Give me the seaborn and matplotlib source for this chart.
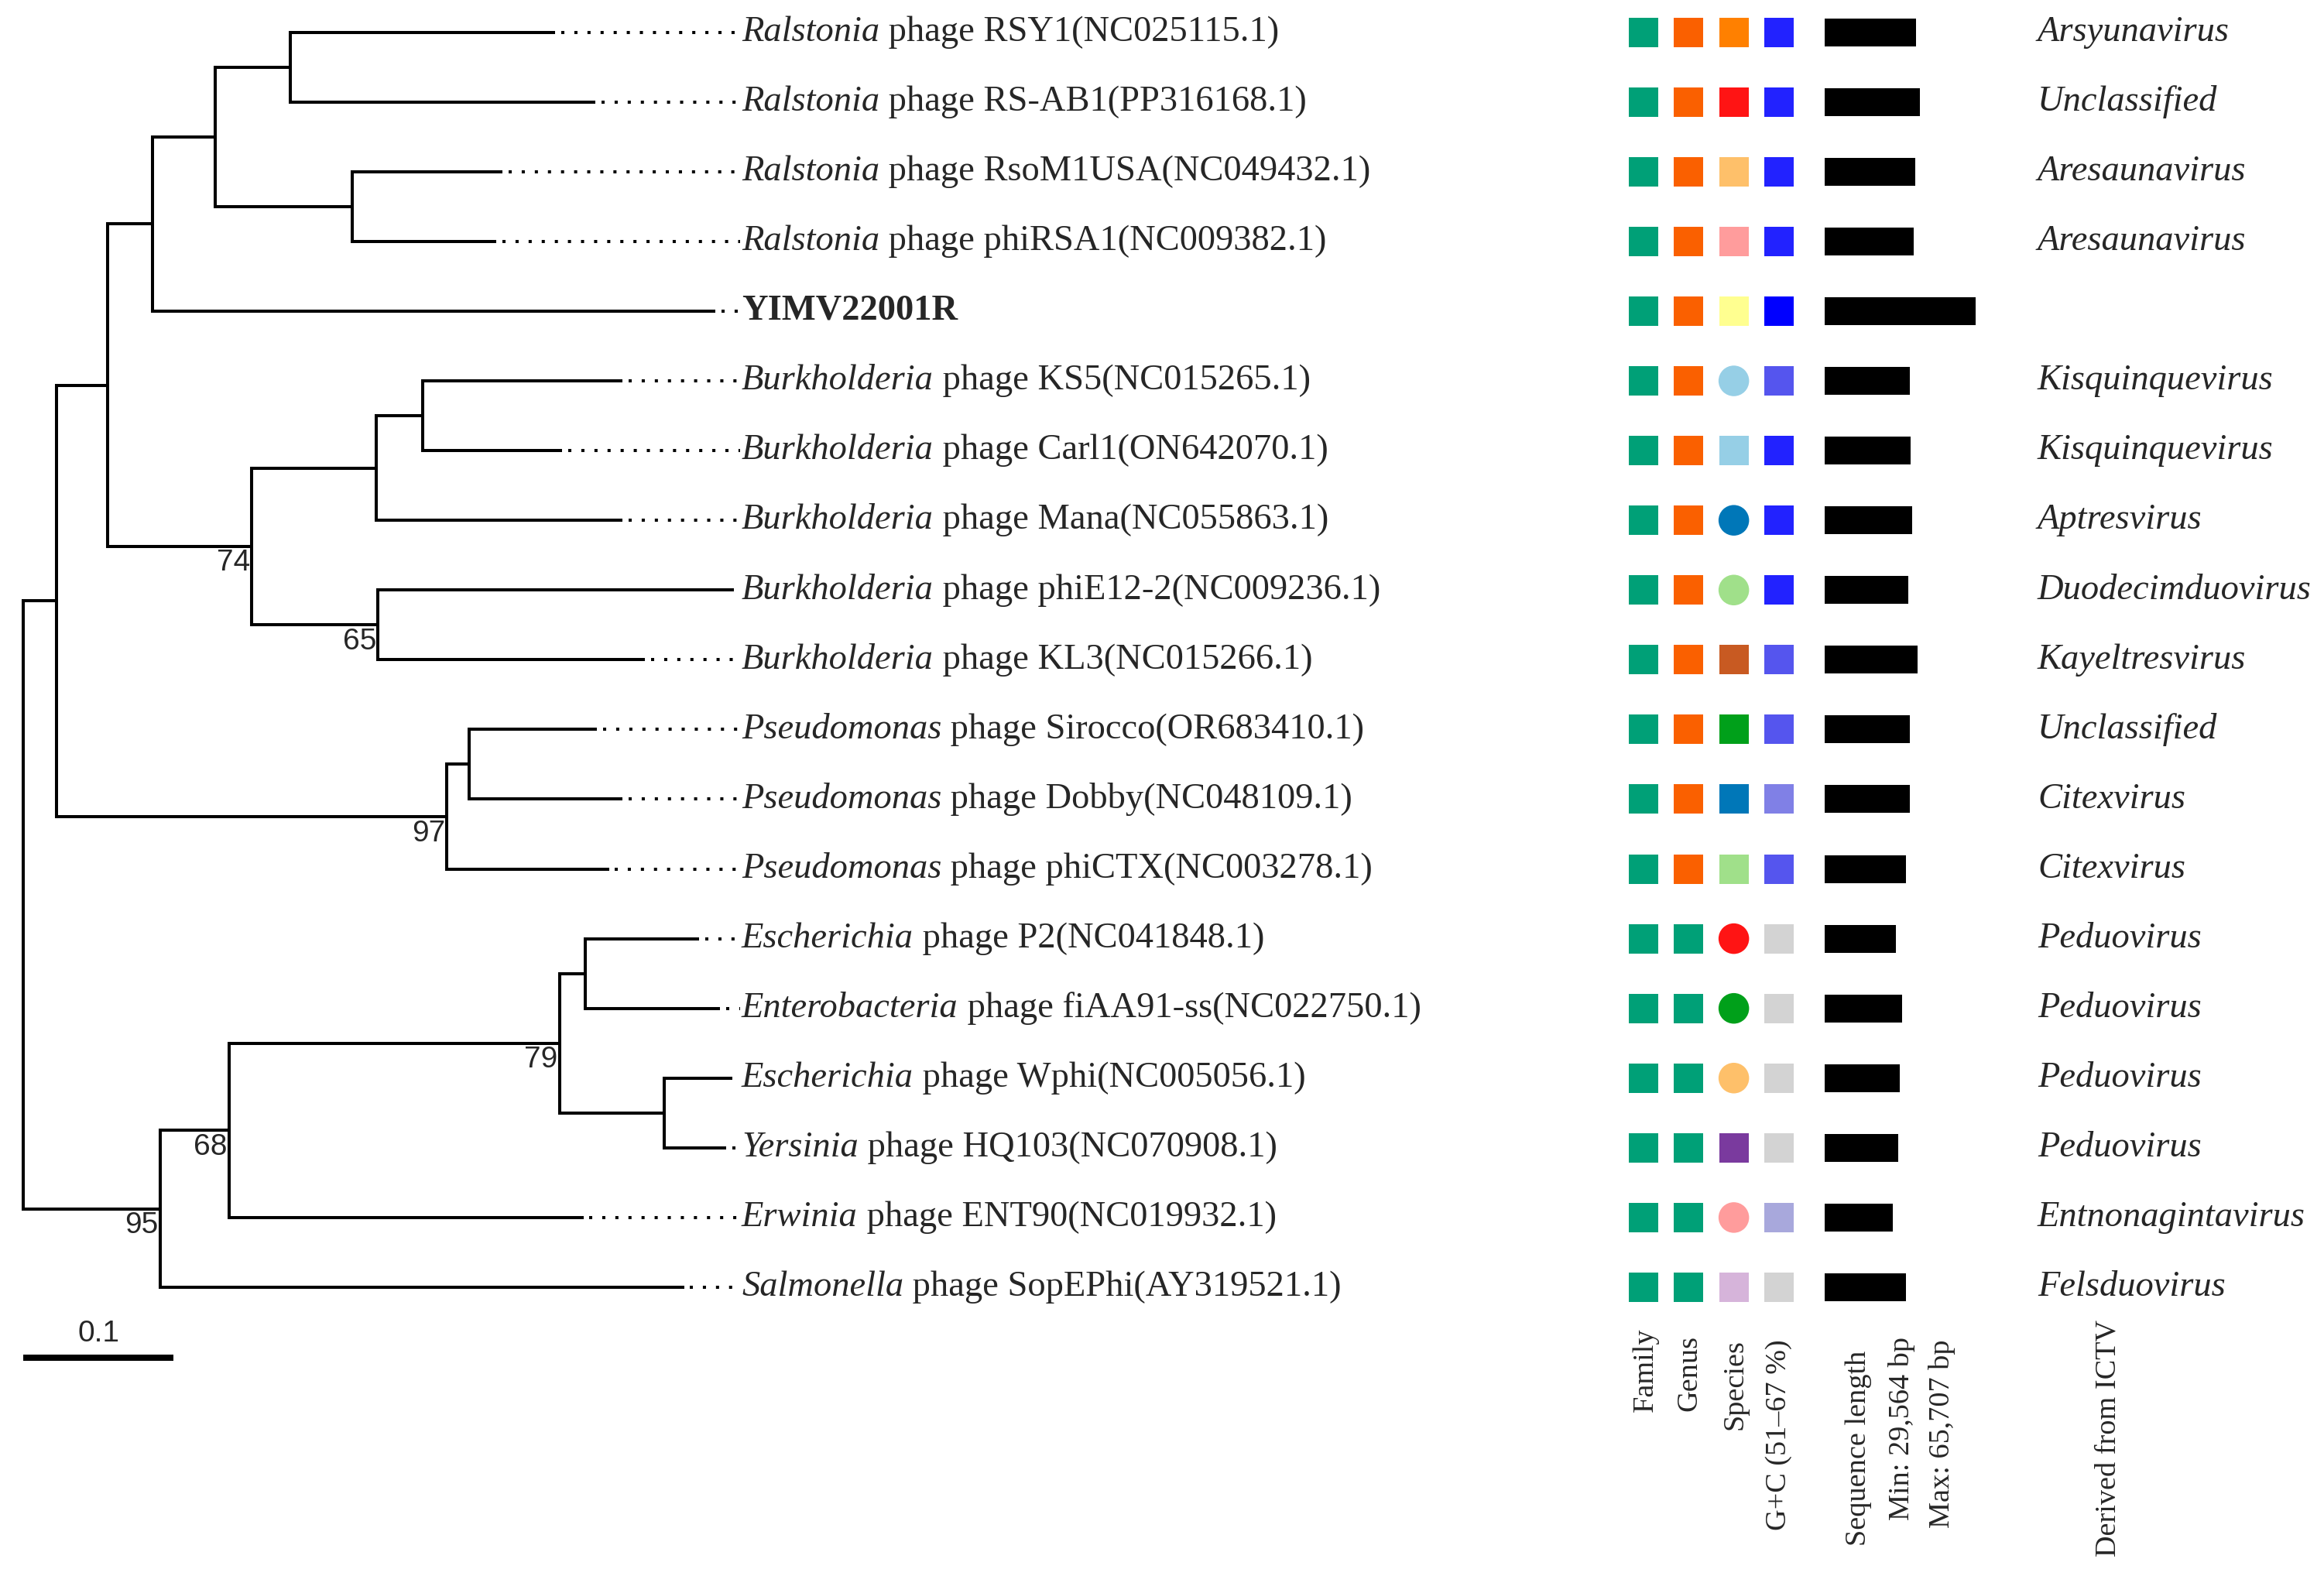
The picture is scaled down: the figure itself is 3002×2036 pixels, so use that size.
import numpy as np
import pandas as pd
import matplotlib
matplotlib.use("Agg")
import matplotlib.pyplot as plt
import matplotlib.transforms as mtransforms
import seaborn as sns

# ---------------- data ----------------
leaf_host = ["Ralstonia", "Ralstonia", "Ralstonia", "Ralstonia", "",
             "Burkholderia", "Burkholderia", "Burkholderia", "Burkholderia", "Burkholderia",
             "Pseudomonas", "Pseudomonas", "Pseudomonas",
             "Escherichia", "Enterobacteria", "Escherichia", "Yersinia", "Erwinia", "Salmonella"]
leaf_rest = [" phage RSY1(NC025115.1)", " phage RS-AB1(PP316168.1)", " phage RsoM1USA(NC049432.1)",
             " phage phiRSA1(NC009382.1)", "YIMV22001R",
             " phage KS5(NC015265.1)", " phage Carl1(ON642070.1)", " phage Mana(NC055863.1)",
             " phage phiE12-2(NC009236.1)", " phage KL3(NC015266.1)",
             " phage Sirocco(OR683410.1)", " phage Dobby(NC048109.1)", " phage phiCTX(NC003278.1)",
             " phage P2(NC041848.1)", " phage fiAA91-ss(NC022750.1)", " phage Wphi(NC005056.1)",
             " phage HQ103(NC070908.1)", " phage ENT90(NC019932.1)", " phage SopEPhi(AY319521.1)"]
leaf_parent = ["P", "P", "Q", "Q", "J", "M", "M", "L", "N", "N", "I", "I", "H",
               "E", "E", "F", "F", "C", "B"]
leaf_branch = [0.176, 0.203, 0.100, 0.096, 0.375, 0.133, 0.093, 0.164, 0.237, 0.178,
               0.085, 0.102, 0.108, 0.076, 0.090, 0.045, 0.041, 0.236, 0.349]

node_names = ["root", "A", "G", "J", "O", "P", "Q", "K", "L", "M", "N", "H", "I", "B", "C", "D", "E", "F"]
node_parent = [None, "root", "A", "G", "J", "O", "O", "G", "K", "L", "K", "A", "H", "root", "B", "C", "D", "D"]
node_branch = [0.0, 0.022, 0.034, 0.030, 0.042, 0.050, 0.091, 0.096, 0.083, 0.031, 0.084,
               0.260, 0.015, 0.091, 0.046, 0.220, 0.017, 0.070]
bootstrap_nodes = ["K", "N", "H", "D", "C", "B"]
bootstrap_values = [74, 65, 97, 79, 68, 95]

ictv_genus = ["Arsyunavirus", "Unclassified", "Aresaunavirus", "Aresaunavirus", "",
              "Kisquinquevirus", "Kisquinquevirus", "Aptresvirus", "Duodecimduovirus", "Kayeltresvirus",
              "Unclassified", "Citexvirus", "Citexvirus",
              "Peduovirus", "Peduovirus", "Peduovirus", "Peduovirus", "Entnonagintavirus", "Felsduovirus"]

family_color = ["#00A077"] * 19
genus_color = ["#FA6000"] * 13 + ["#00A077"] * 6
species_color = ["#FF8000", "#FF1414", "#FEC06A", "#FF9C9C", "#FFFF90",
                 "#96CFE6", "#96CFE6", "#0077B8", "#A0E08A", "#C85A22",
                 "#00A01A", "#0077B8", "#A0E08A",
                 "#FF1414", "#00A01A", "#FEC06A", "#7A3A9E", "#FF9C9C", "#D6B4DA"]
species_shape = ["s", "s", "s", "s", "s", "o", "s", "o", "o", "s",
                 "s", "s", "s", "o", "o", "o", "s", "o", "s"]
gc_color = ["#2222FF", "#2222FF", "#2222FF", "#2222FF", "#0000FF",
            "#5555EE", "#2222FF", "#2222FF", "#2222FF", "#5555EE",
            "#5555EE", "#8080E6", "#5555EE",
            "#D3D3D3", "#D3D3D3", "#D3D3D3", "#D3D3D3", "#A8A8DC", "#D3D3D3"]
seq_length = [39830, 41660, 39420, 39010, 65707, 37150, 37550, 38160, 36540, 40430,
              37150, 37150, 35490, 31190, 33660, 32650, 32040, 29564, 35320]

column_labels = ["Family", "Genus", "Species", "G+C (51\u201367 %)"]
bar_labels = ["Sequence length", "Min: 29,564 bp", "Max: 65,707 bp"]
ictv_label = "Derived from ICTV"
scale_value = 0.1

# ---------------- layout ----------------
sns.set_theme(style="white")
plt.rcParams['font.family'] = ['Liberation Serif', 'DejaVu Serif']

W, H = 3002, 2036
fig = plt.figure(figsize=(W / 100, H / 100), dpi=100)
PX_PER_UNIT = 1940.0
X0 = 30.0
ROW0, ROWH = 41.7, 90.07
YLIM = ((H - ROW0) / ROWH, -ROW0 / ROWH)
LABEL_X = (958 - X0) / PX_PER_UNIT
LW = 2.9
FS = 33.5

ax_tree = fig.add_axes([0, 0, 1, 1])
ax_tree.set_xlim(-X0 / PX_PER_UNIT, (W - X0) / PX_PER_UNIT)
ax_tree.set_ylim(*YLIM)
ax_tree.axis("off")

# tree geometry
depth = {}
children = {n: [] for n in node_names}
for n, p, b in zip(node_names, node_parent, node_branch):
    depth[n] = 0.0 if p is None else depth[p] + b
    if p is not None:
        children[p].append(n)
leaf_ids = [f"L{i}" for i in range(len(leaf_host))]
ypos = {}
for i, (lid, p, b) in enumerate(zip(leaf_ids, leaf_parent, leaf_branch)):
    depth[lid] = depth[p] + b
    children[p].append(lid)
    ypos[lid] = float(i)


def get_y(n):
    if n in ypos:
        return ypos[n]
    ys = [get_y(c) for c in children[n]]
    ypos[n] = (min(ys) + max(ys)) / 2
    return ypos[n]


get_y("root")
parent_map = dict(zip(node_names, node_parent))
parent_map.update(dict(zip(leaf_ids, leaf_parent)))

for n, p in parent_map.items():
    if p is None:
        continue
    ax_tree.plot([depth[p], depth[n]], [ypos[n], ypos[n]], color="black", lw=LW,
                 solid_capstyle="butt")
for n in node_names:
    ys = [ypos[c] for c in children[n]]
    ax_tree.plot([depth[n], depth[n]], [min(ys), max(ys)], color="black", lw=LW,
                 solid_capstyle="projecting")

# dotted leaders and labels
for i, lid in enumerate(leaf_ids):
    x_end = depth[lid]
    if LABEL_X - x_end > 0.008:
        ax_tree.plot([x_end + 0.004, LABEL_X - 0.001], [i, i], color="black", lw=LW,
                     linestyle=(0, (1.0, 3.2)), dash_capstyle="butt")
    if leaf_host[i]:
        t1 = ax_tree.text(LABEL_X, i, leaf_host[i], style="italic", fontsize=FS,
                          va="center", ha="left")
        ax_tree.annotate(leaf_rest[i], xy=(1, 0.5), xycoords=t1, fontsize=FS,
                         va="center", ha="left")
    else:
        ax_tree.text(LABEL_X, i, leaf_rest[i], fontweight="bold", fontsize=FS,
                     va="center", ha="left")

for n, v in zip(bootstrap_nodes, bootstrap_values):
    ax_tree.text(depth[n] - 0.001, ypos[n] + 0.35, str(v), fontsize=28,
                 family="Liberation Sans", ha="right", va="baseline")

# scale bar
sb_y = (1754 - ROW0) / ROWH
ax_tree.plot([0, scale_value], [sb_y, sb_y], color="black", lw=5.8, solid_capstyle="butt")
ax_tree.text(scale_value / 2, (1723 - ROW0) / ROWH, f"{scale_value:g}", fontsize=28,
             family="Liberation Sans", ha="center", va="center")

# ---------------- marker columns ----------------
ax_mark = fig.add_axes([2094 / W, 0, 233 / W, 1])
rows = np.arange(len(leaf_host))
recs = []
for col, colors in enumerate([family_color, genus_color, species_color, gc_color]):
    for r in rows:
        shape = species_shape[r] if col == 2 else "s"
        recs.append(dict(col=col, row=r, color=colors[r], shape=shape))
df = pd.DataFrame(recs)
pal = {c: c for c in df["color"].unique()}
sns.scatterplot(data=df[df["shape"] == "s"], x="col", y="row", hue="color", palette=pal,
                marker="s", s=748, linewidth=0, legend=False, ax=ax_mark)
sns.scatterplot(data=df[df["shape"] == "o"], x="col", y="row", hue="color", palette=pal,
                marker="o", s=810, linewidth=0, legend=False, ax=ax_mark)
ax_mark.set_xlim(-0.5, 3.5)
ax_mark.set_ylim(*YLIM)
ax_mark.axis("off")

# ---------------- sequence length bars ----------------
BAR_PX_PER_BP = 194.5 / 65707
ax_bar = fig.add_axes([2357 / W, 0, 243 / W, 1])
sns.barplot(x=seq_length, y=rows, orient="h", color="black", saturation=1, width=0.4,
            errorbar=None, linewidth=0, ax=ax_bar)
ax_bar.set_xlim(0, 243 / BAR_PX_PER_BP)
ax_bar.set_ylim(*YLIM)
ax_bar.axis("off")

# ---------------- right-side text ----------------
blend = mtransforms.blended_transform_factory(fig.transFigure, ax_tree.transData)
for i, g in enumerate(ictv_genus):
    if g:
        ax_tree.text(2632 / W, i, g, transform=blend, style="italic", fontsize=FS,
                     va="center", ha="left")

px = fig.add_axes([0, 0, 1, 1])
px.set_xlim(0, W)
px.set_ylim(H, 0)
px.axis("off")
bottom_texts = column_labels + bar_labels + [ictv_label]
bottom_x = [2126, 2182, 2241, 2298, 2401, 2456, 2509, 2723]
bottom_top = [1715, 1725, 1730, 1730, 1745, 1727, 1730, 1705]
for t, x, y in zip(bottom_texts, bottom_x, bottom_top):
    px.text(x, y, t, rotation=90, fontsize=27.5, ha="center", va="top")

fig.savefig("out.png", dpi=100)
